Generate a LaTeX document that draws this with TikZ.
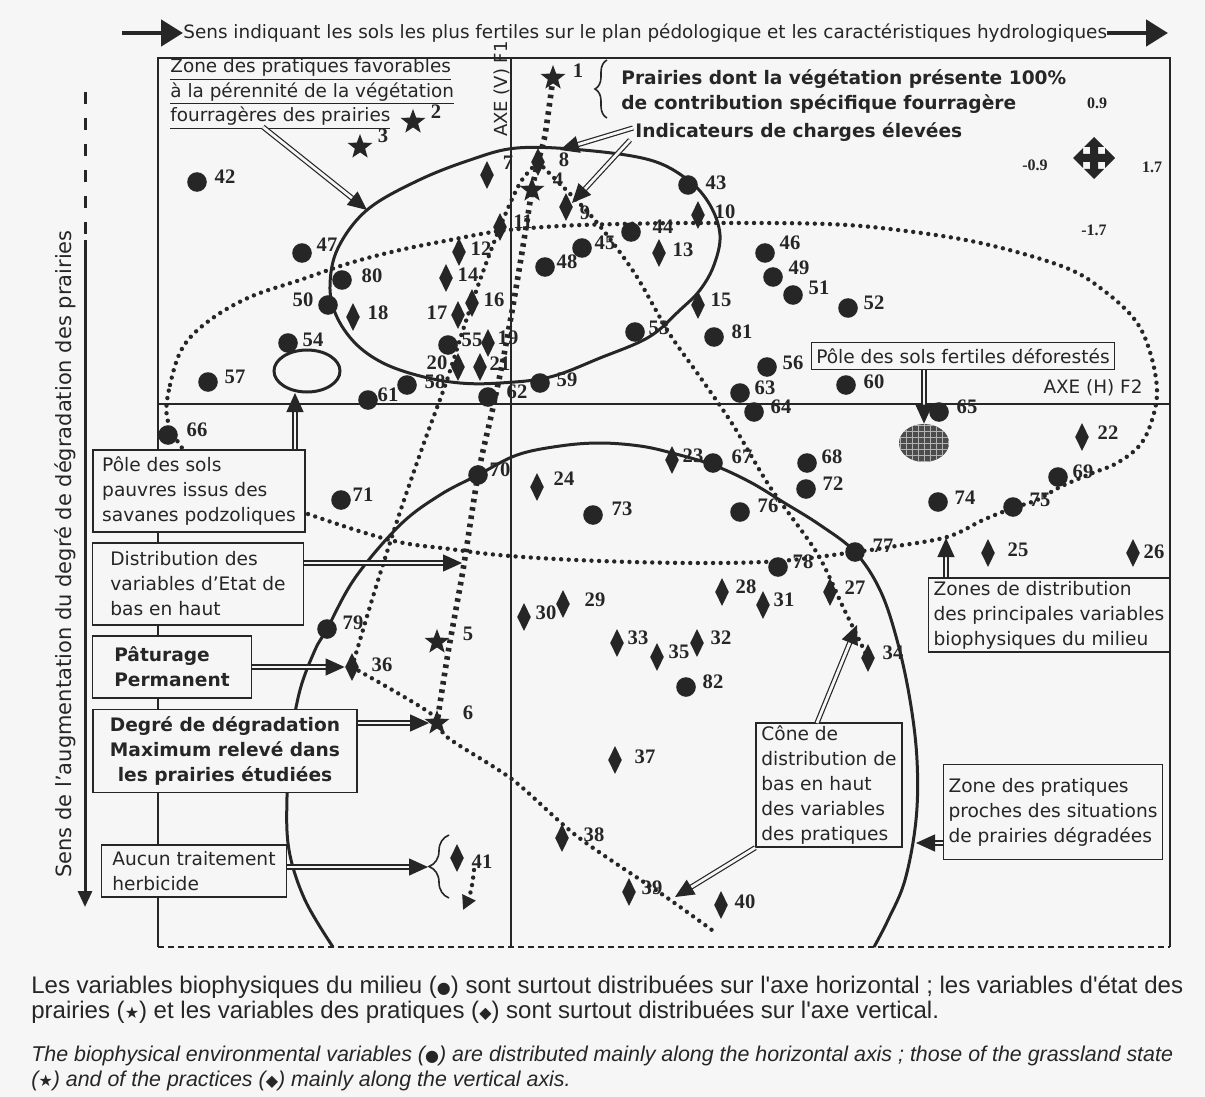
\documentclass[tikz,border=0pt]{standalone}
\usepackage{fontspec}
\setmainfont{DejaVu Sans}
\newfontfamily\numfont{Liberation Serif}
\newfontfamily\legfont{Liberation Sans}
\newfontfamily\symfont{DejaVu Sans}
\usetikzlibrary{shapes.geometric,arrows.meta,decorations.pathreplacing,patterns}
\definecolor{fond}{gray}{0.965}
\definecolor{encre}{gray}{0.15}
\newcommand{\legsym}[1]{{\symfont\fontsize{8}{8}\selectfont #1}}

\tikzset{
  milieu/.style={circle, fill=encre, inner sep=0pt, minimum size=9.8pt},
  pratique/.style={diamond, fill=encre, inner sep=0pt, minimum width=7pt, minimum height=14pt},
  etat/.style={star, star points=5, star point ratio=2.4, fill=encre, inner sep=0pt, minimum size=13pt},
  num/.style={font=\numfont\bfseries\fontsize{10.3}{10}\selectfont, inner sep=0pt, text=encre},
  echelle/.style={font=\numfont\bfseries\fontsize{8}{8}\selectfont, inner sep=0pt, text=encre},
  boite/.style={draw=encre, line width=0.7pt, fill=fond, inner xsep=2.5pt, inner ysep=1pt, text=encre,
    font=\fontsize{9.3}{12.5}\selectfont, align=left},
  grasboite/.style={boite, font=\bfseries\fontsize{9.3}{12.5}\selectfont},
  fleche/.style={double=fond, double distance=1.4pt, line width=0.6pt, draw=encre, -{Triangle[length=9.5pt,width=8.5pt]}},
  pointille/.style={line width=2.2pt, dash pattern=on 0pt off 3.8pt, line cap=round, draw=encre},
  grospoint/.style={line width=2.8pt, dash pattern=on 1.8pt off 2.4pt, draw=encre},
  contour/.style={line width=1.5pt, draw=encre},
  cadre/.style={line width=1pt, draw=encre},
  axe/.style={line width=0.6pt, draw=encre},
  titrefl/.style={line width=2.4pt, draw=encre, -{Triangle[length=11pt,width=13pt]}},
  accol/.style={decorate, line width=0.8pt, draw=encre},
  legende/.style={font=\legfont\fontsize{12}{12}\selectfont, inner sep=0pt, text=encre, anchor=west},
  legita/.style={legende, font=\legfont\itshape\fontsize{10.7}{12}\selectfont},
}

\begin{document}
\begin{tikzpicture}[x=0.5pt,y=-0.5pt]
        \fill[fond] (0,0) rectangle (1205,1097);
        \useasboundingbox (0,0) rectangle (1205,1097);

        % titre et sens de degradation
        \node[font=\fontsize{9.2}{10}\selectfont, text=encre, anchor=west, inner sep=0pt] (titre) at (183,33) {Sens indiquant les sols les plus fertiles sur le plan pédologique et les caractéristiques hydrologiques};
        \coordinate (dtit) at (122,33);
        \coordinate (ftit) at (1168,33);
        \draw[titrefl] (dtit) -- (titre.west);
        \draw[titrefl] (titre.east) -- (ftit);
        \coordinate (hdeg) at (85,92);
        \coordinate (mdeg) at (85,240);
        \coordinate (bdeg) at (85,907);
        \draw[line width=1.5pt, draw=encre, dash pattern=on 6pt off 7pt] (hdeg) -- (mdeg);
        \draw[line width=1.5pt, draw=encre, -{Triangle[length=8pt,width=7pt]}] (mdeg) -- (bdeg);
        \node[rotate=90, font=\fontsize{10.5}{12}\selectfont, text=encre, inner sep=0pt] (sensdeg) at (65,554) {Sens de l'augmentation du degré de dégradation des prairies};

        % cadre et axes
        \draw[cadre] (158,947) -- (158,58) -- (1170,58) -- (1170,947);
        \draw[cadre, dash pattern=on 3pt off 2pt] (158,947) -- (1170,947);
        \draw[axe] (158,404) -- (1170,404);
        \draw[axe] (511,58) -- (511,947);
        \node[rotate=90, font=\fontsize{9}{10}\selectfont, text=encre, inner sep=0pt] (axev) at (502,89) {AXE (V) F1};
        \node[font=\fontsize{9.2}{10}\selectfont, text=encre, inner sep=0pt] (axeh) at (1093,388) {AXE (H) F2};

        % echelle
        \node[echelle] (s1) at (1097,103) {0.9};
        \node[echelle] (s2) at (1035,165) {-0.9};
        \node[echelle] (s3) at (1152,167) {1.7};
        \node[echelle] (s4) at (1094,230) {-1.7};
        \fill[encre] (1098,154) -- (1105,154) -- (1105,148) -- (1115,158) -- (1105,168) -- (1105,162) -- (1098,162)
          -- (1098,169) -- (1104,169) -- (1094,179) -- (1084,169) -- (1090,169) -- (1090,162)
          -- (1083,162) -- (1083,168) -- (1073,158) -- (1083,148) -- (1083,154) -- (1090,154)
          -- (1090,147) -- (1084,147) -- (1094,137) -- (1104,147) -- (1098,147) -- cycle;

        % zones
        \draw[contour] plot[smooth cycle, tension=0.6] coordinates {(517,148) (583,150) (650,160) (688,180) (710,205) (720,235) (714,265) (700,290) (680,310) (649,337) (600,358) (550,377) (500,383) (460,383) (420,376) (383,363) (355,343) (336,315) (330,285) (338,248) (367,210) (417,181) (470,160)};
        \draw[contour] plot[smooth, tension=0.6] coordinates {(333,947) (305,900) (289,850) (287,797) (291,740) (300,690) (315,650) (327,629) (355,578) (400,525) (440,495) (478,475) (517,455) (560,446) (600,443) (640,446) (672,453) (713,465) (750,482) (783,502) (820,525) (855,552) (880,590) (897,640) (910,700) (917,760) (916,820) (905,880) (888,920) (874,947)};
        \draw[pointille] plot[smooth cycle, tension=0.6] coordinates {(167,417) (170,385) (183,347) (210,320) (250,297) (300,280) (350,263) (400,250) (450,240) (500,231) (560,226) (620,224) (700,223) (827,224) (906,231) (985,244) (1064,267) (1103,290) (1135,320) (1150,352) (1157,390) (1152,420) (1140,445) (1117,463) (1090,474) (1060,487) (1037,500) (1013,508) (983,520) (947,537) (890,547) (855,552) (780,561) (700,563) (600,561) (510,556) (450,549) (390,540) (305,513) (250,492) (200,465) (180,445)};
        \node[ellipse, draw=encre, line width=1.5pt, minimum width=33pt, minimum height=21pt] (anneau) at (307,371) {};
        \node[ellipse, fill=black!70, postaction={pattern=grid, pattern color=black!30}, minimum width=25pt, minimum height=19pt] (hachure) at (924,443) {};

        % etat (etoiles)
        \node[etat] (e1) at (553,78) {};  \node[num] (n1) at (578,71) {1};
        \node[etat] (e2) at (413,122) {}; \node[num] (n2) at (436,112) {2};
        \node[etat] (e3) at (360,147) {}; \node[num] (n3) at (383,136) {3};
        \node[etat] (e4) at (532,190) {}; \node[num] (n4) at (558,180) {4};
        \node[etat] (e5) at (437,642) {}; \node[num] (n5) at (468,634) {5};
        \node[etat] (e6) at (437,723) {}; \node[num] (n6) at (468,713) {6};

        % pratiques (losanges)
        \node[pratique] (p7) at (487,175) {};   \node[num] (n7) at (508,163) {7};
        \node[pratique] (p8) at (538,162) {};   \node[num] (n8) at (564,160) {8};
        \node[pratique] (p9) at (566,207) {};   \node[num] (n9) at (585,213) {9};
        \node[pratique] (p10) at (698,215) {};  \node[num] (n10) at (725,212) {10};
        \node[pratique] (p11) at (500,227) {};  \node[num] (n11) at (523,222) {11};
        \node[pratique] (p12) at (459,252) {};  \node[num] (n12) at (481,249) {12};
        \node[pratique] (p13) at (659,253) {};  \node[num] (n13) at (683,250) {13};
        \node[pratique] (p14) at (446,278) {};  \node[num] (n14) at (468,275) {14};
        \node[pratique] (p15) at (698,305) {};  \node[num] (n15) at (721,300) {15};
        \node[pratique] (p16) at (472,303) {};  \node[num] (n16) at (494,300) {16};
        \node[pratique] (p17) at (458,315) {};  \node[num] (n17) at (437,313) {17};
        \node[pratique] (p18) at (353,317) {};  \node[num] (n18) at (378,313) {18};
        \node[pratique] (p19) at (488,343) {};  \node[num] (n19) at (508,338) {19};
        \node[pratique] (p20) at (458,367) {};  \node[num] (n20) at (437,363) {20};
        \node[pratique] (p21) at (480,367) {};  \node[num] (n21) at (500,364) {21};
        \node[pratique] (p22) at (1082,437) {}; \node[num] (n22) at (1108,433) {22};
        \node[pratique] (p23) at (672,460) {};  \node[num] (n23) at (693,456) {23};
        \node[pratique] (p24) at (537,487) {};  \node[num] (n24) at (564,479) {24};
        \node[pratique] (p25) at (988,553) {};  \node[num] (n25) at (1018,550) {25};
        \node[pratique] (p26) at (1133,553) {}; \node[num] (n26) at (1154,552) {26};
        \node[pratique] (p27) at (830,592) {};  \node[num] (n27) at (855,588) {27};
        \node[pratique] (p28) at (722,592) {};  \node[num] (n28) at (746,587) {28};
        \node[pratique] (p29) at (563,604) {};  \node[num] (n29) at (595,600) {29};
        \node[pratique] (p30) at (524,617) {};  \node[num] (n30) at (546,613) {30};
        \node[pratique] (p31) at (763,605) {};  \node[num] (n31) at (784,600) {31};
        \node[pratique] (p32) at (697,643) {};  \node[num] (n32) at (721,638) {32};
        \node[pratique] (p33) at (617,643) {};  \node[num] (n33) at (638,638) {33};
        \node[pratique] (p34) at (868,658) {};  \node[num] (n34) at (893,653) {34};
        \node[pratique] (p35) at (657,657) {};  \node[num] (n35) at (679,652) {35};
        \node[pratique] (p36) at (352,667) {};  \node[num] (n36) at (382,665) {36};
        \node[pratique] (p37) at (615,760) {};  \node[num] (n37) at (645,757) {37};
        \node[pratique] (p38) at (562,838) {};  \node[num] (n38) at (594,835) {38};
        \node[pratique] (p39) at (629,892) {};  \node[num] (n39) at (652,888) {39};
        \node[pratique] (p40) at (721,905) {};  \node[num] (n40) at (745,902) {40};
        \node[pratique] (p41) at (457,858) {};  \node[num] (n41) at (482,862) {41};

        % milieu (points)
        \node[milieu] (m42) at (197,182) {};  \node[num] (n42) at (225,177) {42};
        \node[milieu] (m43) at (688,185) {};  \node[num] (n43) at (716,183) {43};
        \node[milieu] (m44) at (631,232) {};  \node[num] (n44) at (663,227) {44};
        \node[milieu] (m45) at (582,248) {};  \node[num] (n45) at (605,243) {45};
        \node[milieu] (m46) at (765,253) {};  \node[num] (n46) at (790,243) {46};
        \node[milieu] (m47) at (302,253) {};  \node[num] (n47) at (327,245) {47};
        \node[milieu] (m48) at (545,267) {};  \node[num] (n48) at (567,262) {48};
        \node[milieu] (m49) at (773,277) {};  \node[num] (n49) at (799,268) {49};
        \node[milieu] (m50) at (328,305) {};  \node[num] (n50) at (303,300) {50};
        \node[milieu] (m51) at (793,295) {};  \node[num] (n51) at (819,288) {51};
        \node[milieu] (m52) at (848,308) {};  \node[num] (n52) at (874,303) {52};
        \node[milieu] (m53) at (635,332) {};  \node[num] (n53) at (659,328) {53};
        \node[milieu] (m54) at (288,343) {};  \node[num] (n54) at (313,340) {54};
        \node[milieu] (m55) at (448,345) {};  \node[num] (n55) at (472,340) {55};
        \node[milieu] (m56) at (767,367) {};  \node[num] (n56) at (793,363) {56};
        \node[milieu] (m57) at (208,382) {};  \node[num] (n57) at (235,377) {57};
        \node[milieu] (m58) at (407,385) {};  \node[num] (n58) at (435,382) {58};
        \node[milieu] (m59) at (540,383) {};  \node[num] (n59) at (567,380) {59};
        \node[milieu] (m60) at (846,385) {};  \node[num] (n60) at (874,382) {60};
        \node[milieu] (m61) at (368,400) {};  \node[num] (n61) at (388,395) {61};
        \node[milieu] (m62) at (488,397) {};  \node[num] (n62) at (517,392) {62};
        \node[milieu] (m63) at (740,393) {};  \node[num] (n63) at (765,388) {63};
        \node[milieu] (m64) at (754,412) {};  \node[num] (n64) at (781,407) {64};
        \node[milieu] (m65) at (939,412) {};  \node[num] (n65) at (967,407) {65};
        \node[milieu] (m66) at (168,435) {};  \node[num] (n66) at (197,430) {66};
        \node[milieu] (m67) at (713,463) {};  \node[num] (n67) at (742,457) {67};
        \node[milieu] (m68) at (807,463) {};  \node[num] (n68) at (832,457) {68};
        \node[milieu] (m69) at (1058,477) {}; \node[num] (n69) at (1083,472) {69};
        \node[milieu] (m70) at (478,475) {};  \node[num] (n70) at (500,470) {70};
        \node[milieu] (m71) at (341,500) {};  \node[num] (n71) at (363,495) {71};
        \node[milieu] (m72) at (806,489) {};  \node[num] (n72) at (833,484) {72};
        \node[milieu] (m73) at (593,515) {};  \node[num] (n73) at (622,509) {73};
        \node[milieu] (m74) at (938,502) {};  \node[num] (n74) at (965,498) {74};
        \node[milieu] (m75) at (1013,507) {}; \node[num] (n75) at (1040,500) {75};
        \node[milieu] (m76) at (740,512) {};  \node[num] (n76) at (768,506) {76};
        \node[milieu] (m77) at (855,552) {};  \node[num] (n77) at (883,546) {77};
        \node[milieu] (m78) at (778,567) {};  \node[num] (n78) at (803,562) {78};
        \node[milieu] (m79) at (327,629) {};  \node[num] (n79) at (353,623) {79};
        \node[milieu] (m80) at (342,280) {};  \node[num] (n80) at (372,276) {80};
        \node[milieu] (m81) at (714,337) {};  \node[num] (n81) at (742,332) {81};
        \node[milieu] (m82) at (686,687) {};  \node[num] (n82) at (713,682) {82};

        % distributions en pointilles
        \draw[grospoint] plot[smooth] coordinates {(e1) (545,135) (p8) (e4) (524,240) (514,300) (503,360) (492,412) (m70) (463,570) (448,653) (e6)};
        \draw[pointille] plot[smooth] coordinates {(p36) (375,590) (400,512) (425,440) (446,383) (463,330) (480,280) (p11) (520,183) (p8)};
        \draw[pointille] plot[smooth] coordinates {(p8) (583,207) (607,235) (637,277) (669,333) (700,377) (733,425) (770,487) (817,553) (843,607) (p34)};
        \draw[pointille] plot[smooth] coordinates {(p36) (430,713) (447,737) (513,780) (578,837) (666,897) (716,933)};
        \coordinate (d41) at (474,870);
        \coordinate (f41) at (463,910);
        \draw[pointille, -{Triangle[length=7pt,width=7pt]}] (d41) to[bend left=10] (f41);

        % textes du haut
        \node[align=left, anchor=west, inner sep=0pt, text=encre, font=\fontsize{9.2}{12.2}\selectfont] (zfav) at (170,94) {\underline{Zone des pratiques favorables}\\\underline{à la pérennité de la végétation}\\\underline{fourragères des prairies}};
        \node[align=left, anchor=west, inner sep=0pt, text=encre, font=\bfseries\fontsize{9.3}{12.5}\selectfont] (prairies) at (621,92) {Prairies dont la végétation présente 100\%\\de contribution spécifique fourragère};
        \node[anchor=west, inner sep=0pt, text=encre, font=\bfseries\fontsize{9.3}{12.5}\selectfont] (indic) at (635,132) {Indicateurs de charges élevées};
        \draw[accol, decoration={brace, amplitude=6pt}] (607,118) -- (607,60);

        % boites
        \node[boite, minimum width=106pt, minimum height=41pt] (pauvres) at (199,491) {Pôle des sols\\pauvres issus des\\savanes podzoliques};
        \node[boite, minimum width=105.5pt, minimum height=41pt] (distetat) at (198,584) {Distribution des\\variables d'Etat de\\bas en haut};
        \node[grasboite, minimum width=79.5pt, minimum height=31pt] (paturage) at (172,667) {Pâturage\\Permanent};
        \node[grasboite, align=center, minimum width=132pt, minimum height=41.5pt] (degre) at (225,751) {Degré de dégradation\\Maximum relevé dans\\les prairies étudiées};
        \node[boite, minimum width=92.5pt, minimum height=26pt] (aucun) at (194,871) {Aucun traitement\\herbicide};
        \node[boite, minimum width=151.5pt, minimum height=13.5pt] (fertiles) at (963,356) {Pôle des sols fertiles déforestés};
        \node[boite, minimum width=73pt, minimum height=62pt] (cone) at (829,785) {Cône de\\distribution de\\bas en haut\\des variables\\des pratiques};
        \node[boite, minimum width=109.5pt, minimum height=47.5pt] (proches) at (1053,812) {Zone des pratiques\\proches des situations\\de prairies dégradées};
        \node[boite, minimum width=116.5pt, minimum height=37pt] (zonesdist) at (1049,615) {Zones de distribution\\des principales variables\\biophysiques du milieu};
        \draw[accol, decoration={brace, amplitude=10pt}] (449,898) -- (449,835);

        % fleches
        \coordinate (zfavpied) at (263,127);
        \coordinate (hautcont) at (367,210);
        \draw[fleche] (zfavpied) -- (hautcont);
        \coordinate (i1) at (633,128);
        \coordinate (i2) at (630,140);
        \coordinate (c8) at (560,150);
        \coordinate (c9) at (572,203);
        \draw[fleche] (i1) -- (c8);
        \draw[fleche] (i2) -- (c9);
        \coordinate (a54) at (295,393);
        \draw[fleche] (pauvres.north -| a54) -- (a54);
        \draw[fleche] (fertiles.south -| hachure) -- (hachure.north);
        \coordinate (cEtat) at (462,563);
        \draw[fleche] (distetat.east |- cEtat) -- (cEtat);
        \draw[fleche] (paturage.east |- p36) -- (p36.west);
        \draw[fleche] (degre.east |- e6) -- (e6.west);
        \coordinate (accolade) at (428,867);
        \draw[fleche] (aucun.east |- accolade) -- (accolade);
        \coordinate (cHaut) at (857,625);
        \coordinate (cPied) at (817,723);
        \draw[fleche] (cPied) -- (cHaut);
        \coordinate (cBas) at (675,897);
        \draw[fleche] (cone.south west) -- (cBas);
        \coordinate (cProches) at (916,843);
        \draw[fleche] (proches.west |- cProches) -- (cProches);
        \coordinate (cZones) at (946,538);
        \draw[fleche] (zonesdist.north -| cZones) -- (cZones);

        % legende
        \node[legende] (leg1) at (31,987) {Les variables biophysiques du milieu (\legsym{●}) sont surtout distribuées sur l'axe horizontal ; les variables d'état des};
        \node[legende] (leg2) at (31,1012) {prairies (\legsym{★}) et les variables des pratiques (\legsym{◆}) sont surtout distribuées sur l'axe vertical.};
        \node[legita] (leg3) at (31,1056) {The biophysical environmental variables (\legsym{●}) are distributed mainly along the horizontal axis ; those of the grassland state};
        \node[legita] (leg4) at (31,1081) {(\legsym{★}) and of the practices (\legsym{◆}) mainly along the vertical axis.};
        \end{tikzpicture}
\end{document}
